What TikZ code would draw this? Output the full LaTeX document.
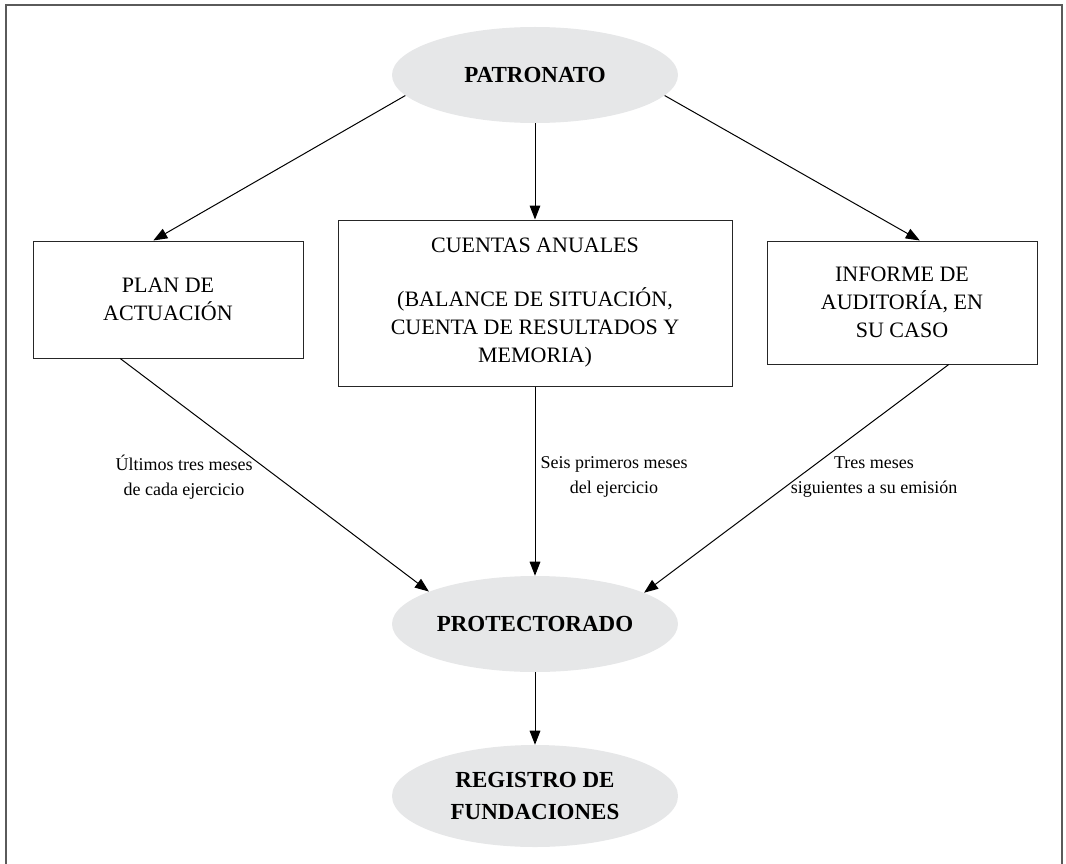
\documentclass[tikz,border=0pt]{standalone}
\usepackage{fontspec}
\setmainfont{Liberation Serif}
\usepackage{tikz}
\usetikzlibrary{shapes.geometric, arrows.meta, positioning}
\definecolor{ovalgray}{RGB}{230,231,232}
\definecolor{framegray}{RGB}{90,90,90}

\begin{document}
\begin{tikzpicture}[x=0.75pt, y=-0.75pt,
  oval/.style={ellipse, fill=ovalgray, minimum width=214.5pt, minimum height=72pt, inner sep=0pt,
    align=center, font=\fontsize{17.25}{24}\selectfont\bfseries},
  box/.style={draw=black!85, line width=0.75pt, minimum width=202.5pt, inner sep=0pt,
    align=center, font=\fontsize{16.5}{21}\selectfont},
  note/.style={align=center, font=\fontsize{13.5}{18.5}\selectfont},
  arr/.style={-{Triangle[length=10.5pt,width=8pt]}, line width=0.75pt}]
  \useasboundingbox (0,0) rectangle (1066,863);
  % outer frame, open at the bottom
  \draw[framegray, line width=1.5pt] (6,870) -- (6,5) -- (1062,5) -- (1062,870);

  % ovals
  \node[oval] (patronato) at (535,75) {PATRONATO};
  \node[oval] (protectorado) at (535,624) {PROTECTORADO};
  \node[oval, minimum height=76.5pt] (registro) at (535,796) {REGISTRO DE\\FUNDACIONES};

  % documents
  \node[box, minimum height=87.75pt] (plan) at (168,299.5) {PLAN DE\\ACTUACIÓN};
  \node[box, minimum width=295.5pt, minimum height=124.5pt] (cuentas) at (535,303)
    {CUENTAS ANUALES\\[19.5pt](BALANCE DE SITUACIÓN,\\CUENTA DE RESULTADOS Y\\MEMORIA)};
  \node[box, minimum height=92.25pt] (informe) at (902,302.5) {INFORME DE\\AUDITORÍA, EN\\SU CASO};

  % deadlines
  \node[note] (plazoplan) at (184,477) {Últimos tres meses\\de cada ejercicio};
  \node[note] (plazocuentas) at (614,477) {Seis primeros meses\\del ejercicio};
  \node[note] (plazoinforme) at (874,477) {Tres meses\\siguientes a su emisión};

  % arrows
  \draw[arr] (patronato.189) -- (plan.104);
  \draw[arr] (patronato.south) -- (cuentas.north);
  \draw[arr] (patronato.-9) -- (informe.74);
  \draw[arr] (plan.231) -- (protectorado.163);
  \draw[arr] (cuentas.south) -- (protectorado.north);
  \draw[arr] (informe.-53) -- (protectorado.16);
  \draw[arr] (protectorado.south) -- (registro.north);
\end{tikzpicture}
\end{document}
